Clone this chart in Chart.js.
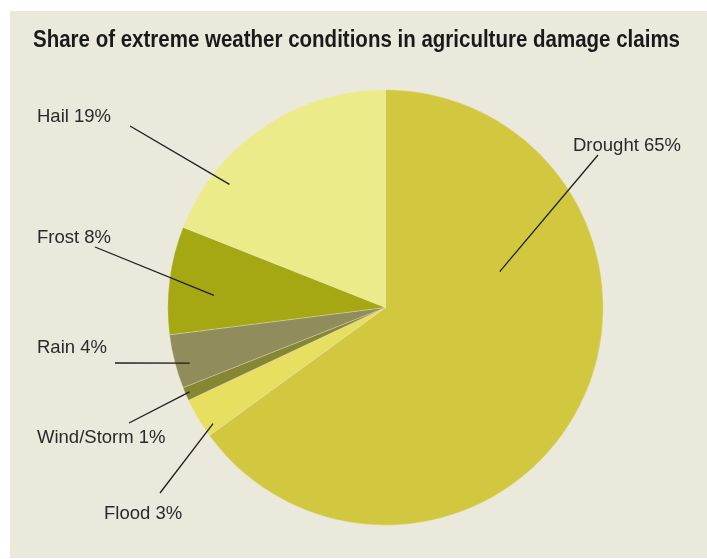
<!DOCTYPE html>
<html>
<head>
<meta charset="utf-8">
<script src="https://cdn.jsdelivr.net/npm/chart.js@4"></script>
<style>
  html, body { margin: 0; padding: 0; background: #ffffff; }
  #wrap { width: 707px; height: 559px; position: relative; }
</style>
</head>
<body>
<div id="wrap"><canvas id="c" width="707" height="559"></canvas></div>
<script>
// Claim shares by weather condition, clockwise from 12 o'clock
const categories = ['Drought', 'Flood', 'Wind/Storm', 'Rain', 'Frost', 'Hail'];
const shares = [65, 3, 1, 4, 8, 19];
const sliceColors = ['#d1c840', '#e6df5f', '#878632', '#918c5c', '#a5a713', '#eceb8a'];

const titleText = 'Share of extreme weather conditions in agriculture damage claims';

// Label placement: text anchor (left, baseline), outer end of leader line,
// and where inside the slice the leader ends (fraction of slice span, fraction of radius)
const labelLayout = [
  { tx: 573, ty: 151, lx: 598, ly: 155, along: 0.31, depth: 0.55 },
  { tx: 104, ty: 519, lx: 160, ly: 493, along: 0.19, depth: 0.955 },
  { tx: 37,  ty: 443, lx: 129, ly: 423, along: 0.53, depth: 0.98 },
  { tx: 37,  ty: 353, lx: 115, ly: 363, along: 0.40, depth: 0.935 },
  { tx: 37,  ty: 243, lx: 95,  ly: 247, along: 0.39, depth: 0.79 },
  { tx: 37,  ty: 122, lx: 130, ly: 126, along: 0.244, depth: 0.913 }
];

const panelPlugin = {
  id: 'panel',
  beforeDraw(chart) {
    const ctx = chart.ctx;
    ctx.save();
    ctx.fillStyle = '#ffffff';
    ctx.fillRect(0, 0, chart.width, chart.height);
    ctx.fillStyle = '#ebe8dc';
    ctx.fillRect(10, 11, chart.width - 10, chart.height - 12);
    ctx.restore();
  }
};

const labelPlugin = {
  id: 'sliceLabels',
  afterDatasetsDraw(chart) {
    const ctx = chart.ctx;
    const arcs = chart.getDatasetMeta(0).data;
    ctx.save();

    // title
    ctx.fillStyle = '#1a1a1a';
    ctx.font = 'bold 23px "Liberation Sans Narrow", "Liberation Sans", sans-serif';
    ctx.textBaseline = 'alphabetic';
    const w = ctx.measureText(titleText).width;
    const sx = 647 / w;
    ctx.save();
    ctx.translate(33, 47);
    ctx.scale(sx, 1);
    ctx.fillText(titleText, 0, 0);
    ctx.restore();

    // leader lines and labels
    ctx.strokeStyle = '#1e1e1e';
    ctx.lineWidth = 1.3;
    ctx.font = '18.5px "Liberation Sans", Arial, sans-serif';
    ctx.fillStyle = '#2a2a2a';
    arcs.forEach((arc, i) => {
      const L = labelLayout[i];
      const p = arc.getProps(['x', 'y', 'startAngle', 'endAngle', 'outerRadius'], true);
      const a = p.startAngle + (p.endAngle - p.startAngle) * L.along;
      const r = p.outerRadius * L.depth;
      const ix = p.x + r * Math.cos(a);
      const iy = p.y + r * Math.sin(a);
      ctx.beginPath();
      ctx.moveTo(L.lx, L.ly);
      ctx.lineTo(ix, iy);
      ctx.stroke();
      ctx.fillText(categories[i] + ' ' + shares[i] + '%', L.tx, L.ty);
    });
    ctx.restore();
  }
};

new Chart(document.getElementById('c'), {
  type: 'pie',
  data: {
    labels: categories,
    datasets: [{
      data: shares,
      backgroundColor: sliceColors,
      borderColor: 'rgba(238,235,215,0.55)',
      borderWidth: 0.6
    }]
  },
  options: {
    responsive: false,
    animation: false,
    layout: { padding: { left: 167.5, right: 103.5, top: 89.5, bottom: 33.5 } },
    plugins: {
      legend: { display: false },
      tooltip: { enabled: false },
      title: { display: false }
    }
  },
  plugins: [panelPlugin, labelPlugin]
});
</script>
</body>
</html>
